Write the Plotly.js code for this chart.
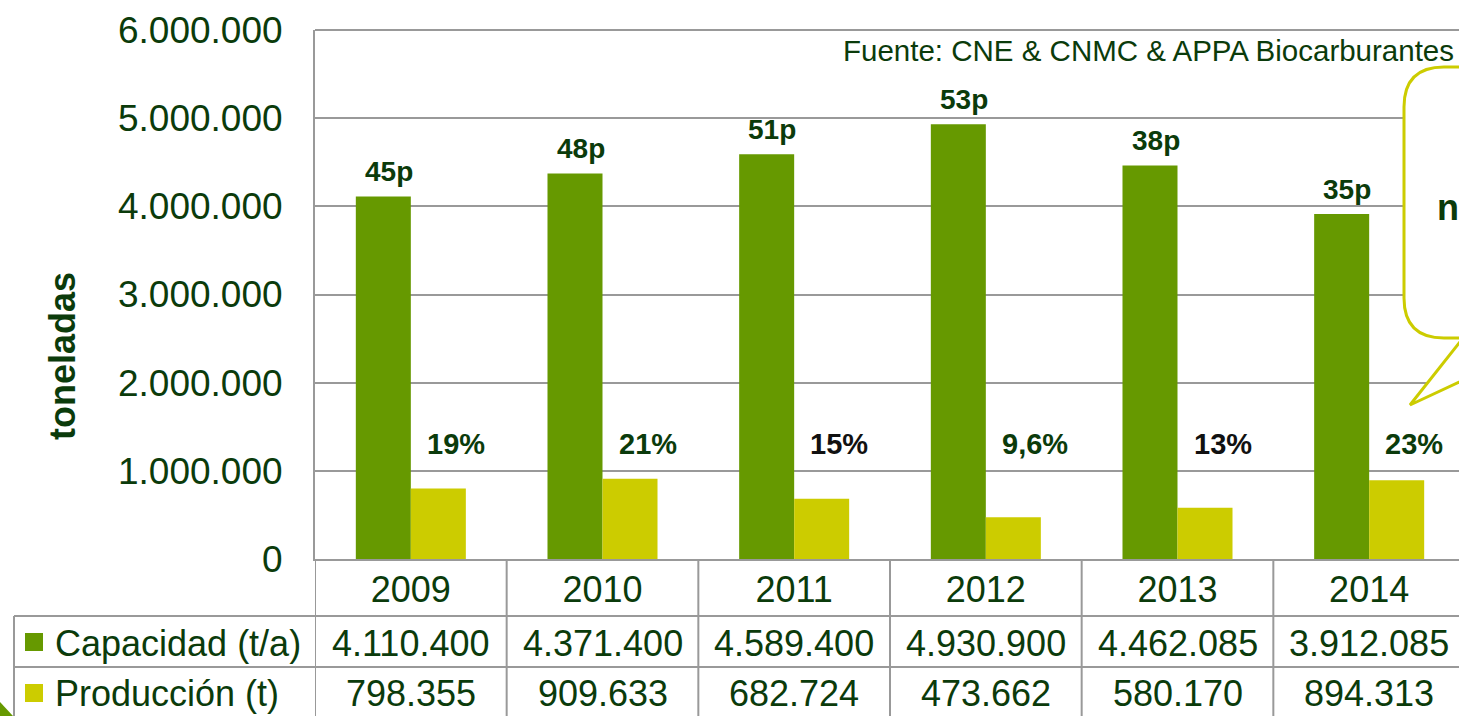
<!DOCTYPE html>
<html>
<head>
<meta charset="utf-8">
<script src="https://cdn.plot.ly/plotly-3.0.1.min.js"></script>
<style>
html,body{margin:0;padding:0;overflow:hidden;background:#fff;width:1459px;height:716px;}
#chart{width:1466px;height:716px;}
</style>
</head>
<body>
<div id="chart"></div>
<script>
// ---- data ----
const years = ['2009', '2010', '2011', '2012', '2013', '2014'];
const capacidad = [4110400, 4371400, 4589400, 4930900, 4462085, 3912085];
const produccion = [798355, 909633, 682724, 473662, 580170, 894313];
const plantas = ['45p', '48p', '51p', '53p', '38p', '35p'];
const utilizacion = ['19%', '21%', '15%', '9,6%', '13%', '23%'];
const utilizacionColor = ['#0b3b0b', '#0b3b0b', '#111111', '#0b3b0b', '#111111', '#0b3b0b'];
const rowLabels = ['Capacidad (t/a)', 'Producción (t)'];
const yTicks = [0, 1000000, 2000000, 3000000, 4000000, 5000000, 6000000];

// ---- style ----
const FONT = 'Arial, "Liberation Sans", sans-serif';
const TXT = '#0b3b0b';
const C_CAP = '#669900';
const C_PROD = '#cccc00';
const GRID = '#999999';

// layout geometry (pixels)
const W = 1466, H = 716;
const L = 315, R = 1, T = 30, B = 157;
const PW = W - L - R, PH = H - T - B;
const px = x => (x - L) / PW;
const py = y => (H - B - y) / PH;

function fmt(n) {
  return String(n).replace(/\B(?=(\d{3})+(?!\d))/g, '.');
}

const traces = [
  {
    type: 'bar', name: rowLabels[0], x: years, y: capacidad,
    marker: {color: C_CAP}, hoverinfo: 'none'
  },
  {
    type: 'bar', name: rowLabels[1], x: years, y: produccion,
    marker: {color: C_PROD}, hoverinfo: 'none'
  }
];

const shapes = [];
const annotations = [];

// table: vertical separators between categories
for (let i = 0; i <= years.length; i++) {
  shapes.push({type: 'line', xref: 'x', yref: 'paper', x0: i - 0.5, x1: i - 0.5,
    y0: py(559), y1: py(716), line: {color: GRID, width: 2}, layer: 'above'});
}
// table: horizontal row lines
[616, 667].forEach(y => {
  shapes.push({type: 'line', xref: 'paper', yref: 'paper', x0: px(14), x1: 1,
    y0: py(y), y1: py(y), line: {color: GRID, width: 2}});
});
// table: left border
shapes.push({type: 'line', xref: 'paper', yref: 'paper', x0: px(14), x1: px(14),
  y0: py(616), y1: py(716), line: {color: GRID, width: 2}});
// top grid line at 6.000.000
shapes.push({type: 'line', xref: 'paper', yref: 'paper', x0: 0, x1: 1, y0: 1, y1: 1,
  line: {color: GRID, width: 2}});

// legend keys in table
[[633, C_CAP], [684, C_PROD]].forEach(([y, c]) => {
  shapes.push({type: 'rect', xref: 'paper', yref: 'paper', x0: px(25), x1: px(43),
    y0: py(y), y1: py(y + 18), fillcolor: c, line: {width: 0}});
});

// row labels
[643, 693].forEach((y, r) => {
  annotations.push({xref: 'paper', yref: 'paper', x: px(53), y: py(y), xanchor: 'left', yanchor: 'middle',
    text: rowLabels[r], showarrow: false, font: {family: FONT, size: 36, color: TXT}});
});
// table values, bar labels
years.forEach((yr, i) => {
  annotations.push({xref: 'x', yref: 'paper', x: i, y: py(643), xanchor: 'center', yanchor: 'middle',
    text: fmt(capacidad[i]), showarrow: false, font: {family: FONT, size: 36, color: TXT}});
  annotations.push({xref: 'x', yref: 'paper', x: i, y: py(693), xanchor: 'center', yanchor: 'middle',
    text: fmt(produccion[i]), showarrow: false, font: {family: FONT, size: 36, color: TXT}});
  // number of plants above capacity bars
  annotations.push({xref: 'x', yref: 'y', x: i, y: capacidad[i], xshift: -22, yshift: 25,
    xanchor: 'center', yanchor: 'middle',
    text: '<b>' + plantas[i] + '</b>', showarrow: false, font: {family: FONT, size: 28, color: TXT}});
  // utilisation labels over production bars
  annotations.push({xref: 'x', yref: 'paper', x: i, y: py(444), xshift: 14, xanchor: 'left', yanchor: 'middle',
    text: '<b>' + utilizacion[i] + '</b>', showarrow: false,
    font: {family: FONT, size: 29, color: utilizacionColor[i]}});
});

// y-axis title
annotations.push({xref: 'paper', yref: 'paper', x: px(62), y: py(356), textangle: -90,
  xanchor: 'center', yanchor: 'middle', text: '<b>toneladas</b>', showarrow: false,
  font: {family: FONT, size: 36, color: TXT}});
// source
annotations.push({xref: 'paper', yref: 'paper', x: px(1456), y: py(50), xanchor: 'right', yanchor: 'middle',
  text: 'Fuente: CNE & CNMC & APPA Biocarburantes', showarrow: false,
  font: {family: FONT, size: 29.5, color: TXT}});

// callout bubble (cut at the right edge)
const bubblePts = [[1700,67],[1444,67],'Q',[1404,67],[1404,107],[1404,298],'Q',[1404,338],[1444,338],
  [1463,338],[1410,405],[1553,338],[1700,338]];
let d = '', q = false, first = true;
for (const p of bubblePts) {
  if (p === 'Q') { q = true; continue; }
  const s = px(p[0]) + ',' + py(p[1]);
  if (first) { d += 'M' + s; first = false; }
  else if (q === true) { d += ' Q' + s; q = 'second'; }
  else if (q === 'second') { d += ' ' + s; q = false; }
  else d += ' L' + s;
}
d += ' Z';
shapes.push({type: 'path', xref: 'paper', yref: 'paper', path: d, fillcolor: '#ffffff',
  line: {color: C_PROD, width: 3}, layer: 'above'});
annotations.push({xref: 'paper', yref: 'paper', x: px(1435), y: py(207), xanchor: 'left', yanchor: 'middle',
  text: '<b>n</b>', showarrow: false, font: {family: FONT, size: 36, color: TXT}});

// corner decoration
shapes.push({type: 'path', xref: 'paper', yref: 'paper',
  path: 'M' + px(0) + ',' + py(702) + ' L' + px(13) + ',' + py(716) + ' L' + px(0) + ',' + py(716) + ' Z',
  fillcolor: C_CAP, line: {width: 0}});

const layout = {
  width: W, height: H,
  margin: {l: L, r: R, t: T, b: B, pad: 0},
  paper_bgcolor: '#ffffff', plot_bgcolor: '#ffffff',
  separators: ',.',
  showlegend: false,
  barmode: 'group', bargap: 0.426, bargroupgap: 0,
  font: {family: FONT, color: TXT},
  xaxis: {
    type: 'category', range: [-0.5, 5.5], showgrid: false, zeroline: false,
    showline: true, linecolor: GRID, linewidth: 2, ticks: '',
    tickfont: {family: FONT, size: 36, color: TXT}, ticklabelstandoff: -2
  },
  yaxis: {
    range: [0, 6000000], tickvals: yTicks, tickformat: ',d',
    showgrid: true, gridcolor: GRID, gridwidth: 2,
    zeroline: false, showline: true, linecolor: GRID, linewidth: 2, ticks: '',
    tickfont: {family: FONT, size: 37, color: TXT}, ticklabelstandoff: 23
  },
  shapes: shapes,
  annotations: annotations
};

Plotly.newPlot('chart', traces, layout, {displayModeBar: false, staticPlot: true});
</script>
</body>
</html>
